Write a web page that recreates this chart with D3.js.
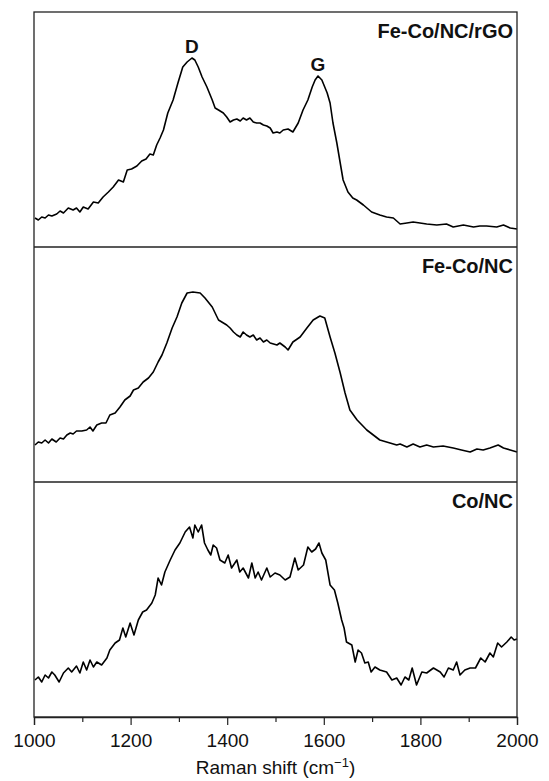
<!DOCTYPE html>
<html><head><meta charset="utf-8">
<script src="https://cdn.jsdelivr.net/npm/d3@7"></script>
<style>body{margin:0;background:#fff}svg{display:block}</style>
</head><body><svg id="c" width="549" height="781"></svg>
<script>
const panelLabels = ["Fe-Co/NC/rGO", "Fe-Co/NC", "Co/NC"];
const xTicksMajor = [1000, 1200, 1400, 1600, 1800, 2000];
const xTicksMinor = [1100, 1300, 1500, 1700, 1900];
const peakLabels = [{t: "D", w: 1327}, {t: "G", w: 1588}];

const shiftFeCoNCrGO = [1002,1009,1016,1023,1030,1037,1047,1054,1061,1071,1081,1088,1095,1102,1112,1123,1133,1143,1154,1164,1175,1185,1193,1202,1213,1223,1232,1240,1247,1254,1261,1268,1277,1288,1298,1308,1317,1327,1333,1340,1348,1358,1369,1375,1382,1392,1399,1406,1413,1420,1427,1433,1440,1447,1454,1461,1468,1475,1482,1489,1495,1503,1509,1516,1526,1536,1547,1557,1567,1576,1582,1588,1596,1607,1613,1619,1627,1634,1640,1650,1660,1668,1682,1699,1716,1730,1744,1758,1772,1785,1799,1813,1834,1854,1868,1889,1910,1923,1937,1958,1972,1986,2000];
const intFeCoNCrGO = [29,27,30,29,32,31,33,36,34,39,37,39,35,40,38,45,44,50,55,60,67,65,77,78,81,86,88,93,92,102,109,117,134,147,164,180,185,189,187,180,170,160,147,139,137,134,130,125,127,128,126,129,127,129,125,124,124,122,121,119,114,115,114,117,118,115,124,137,147,160,167,171,167,154,144,124,104,84,67,55,49,47,42,35,32,30,29,23,24,25,24,23,22,23,20,22,20,21,21,20,22,19,18];

const shiftFeCoNC = [1002,1009,1016,1023,1030,1037,1046,1054,1061,1068,1075,1081,1088,1099,1109,1116,1122,1130,1140,1149,1157,1168,1178,1188,1199,1206,1216,1226,1237,1247,1257,1265,1275,1286,1296,1306,1317,1329,1344,1354,1369,1382,1399,1406,1413,1420,1427,1433,1440,1447,1454,1461,1468,1475,1482,1489,1503,1509,1520,1526,1536,1551,1565,1578,1592,1602,1613,1623,1634,1644,1654,1669,1689,1716,1737,1751,1758,1772,1785,1799,1813,1827,1847,1868,1885,1903,1917,1930,1944,1961,1972,1986,2000];
const intFeCoNC = [37,40,39,42,39,43,40,44,43,47,49,48,51,51,52,55,51,57,59,59,67,69,75,82,86,92,94,100,104,110,120,127,139,154,165,179,189,190,189,184,175,162,157,154,150,147,145,150,147,145,147,142,144,140,142,139,137,139,135,132,140,145,154,162,166,164,145,129,109,89,72,62,52,42,39,37,38,35,38,35,37,35,36,34,32,30,33,32,34,37,34,32,30];

const shiftCoNC = [1002,1009,1016,1023,1030,1037,1043,1052,1061,1071,1078,1088,1095,1102,1109,1116,1123,1130,1140,1151,1157,1168,1177,1184,1190,1199,1207,1216,1225,1233,1244,1251,1257,1264,1271,1282,1292,1302,1313,1322,1329,1333,1340,1347,1353,1360,1366,1371,1378,1385,1395,1402,1409,1420,1426,1433,1444,1451,1458,1464,1471,1482,1489,1499,1509,1520,1530,1540,1547,1558,1567,1575,1583,1590,1596,1604,1613,1622,1629,1637,1642,1647,1658,1665,1671,1678,1685,1692,1698,1706,1716,1730,1741,1751,1760,1768,1776,1783,1792,1803,1813,1827,1841,1849,1858,1868,1875,1882,1892,1903,1914,1925,1934,1944,1951,1960,1968,1979,1988,1994,2000];
const intCoNC = [37,40,35,42,39,45,42,35,44,49,45,51,44,55,47,57,50,55,52,59,67,74,77,89,80,94,82,97,105,107,114,122,139,132,145,157,167,174,185,190,179,192,185,192,174,167,162,172,169,157,154,162,149,157,145,149,139,154,139,145,137,149,140,144,142,137,140,159,147,152,170,165,168,174,164,157,132,127,114,97,89,75,72,55,67,64,54,55,45,50,47,45,37,39,32,40,37,49,32,45,44,49,45,40,49,47,55,42,47,49,49,59,55,64,60,74,70,75,80,77,78];

const series = [
  {label: panelLabels[0], x: shiftFeCoNCrGO, y: intFeCoNCrGO},
  {label: panelLabels[1], x: shiftFeCoNC, y: intFeCoNC},
  {label: panelLabels[2], x: shiftCoNC, y: intCoNC}
];

const svg = d3.select("#c");
const L = 34, R = 517, T = 12, PH = 235;
const B = T + PH * 3;
const x = d3.scaleLinear().domain([1000, 2000]).range([L, R]);
const font = "Liberation Sans, Arial, sans-serif";

series.forEach((s, i) => {
  const top = T + i * PH;
  const y = d3.scaleLinear().domain([0, 235]).range([top + PH, top]);
  const pts = s.x.map((v, k) => [v, s.y[k]]);
  svg.append("path")
    .attr("d", d3.line().x(d => x(d[0])).y(d => y(d[1]))(pts))
    .attr("fill", "none").attr("stroke", "#000").attr("stroke-width", 1.6)
    .attr("stroke-linejoin", "round");
  svg.append("text").attr("x", R - 4).attr("y", top + 26)
    .attr("text-anchor", "end").attr("font-family", font)
    .attr("font-weight", "bold").attr("font-size", 20).attr("fill", "#111").text(s.label);
  if (i === 0) {
    peakLabels.forEach(p => {
      const idx = d3.leastIndex(s.x, v => Math.abs(v - p.w));
      svg.append("text").attr("x", x(p.w)).attr("y", y(s.y[idx]) - 5)
        .attr("text-anchor", "middle").attr("font-family", font)
        .attr("font-weight", "bold").attr("font-size", 19).attr("fill", "#111").text(p.t);
    });
  }
  if (i > 0) {
    svg.append("line").attr("x1", L).attr("x2", R).attr("y1", top).attr("y2", top)
      .attr("stroke", "#222").attr("stroke-width", 1.3);
  }
});

svg.append("rect").attr("x", L).attr("y", T).attr("width", R - L).attr("height", B - T)
  .attr("fill", "none").attr("stroke", "#222").attr("stroke-width", 1.3);

const axis = svg.append("g").attr("transform", `translate(0,${B})`);
axis.call(d3.axisBottom(x).tickValues(xTicksMajor).tickSize(8).tickPadding(9).tickFormat(d3.format("d")));
axis.select(".domain").attr("stroke", "#222").attr("stroke-width", 1.3);
axis.selectAll(".tick line").attr("stroke", "#222").attr("stroke-width", 1.2);
axis.selectAll("text").attr("font-family", font).attr("font-size", 19).attr("fill", "#111");
const minor = svg.append("g").attr("transform", `translate(0,${B})`);
minor.call(d3.axisBottom(x).tickValues(xTicksMinor).tickSize(5).tickFormat(""));
minor.select(".domain").remove();
minor.selectAll(".tick line").attr("stroke", "#222").attr("stroke-width", 1.2);

const title = svg.append("text").attr("x", (L + R) / 2).attr("y", B + 57)
  .attr("text-anchor", "middle").attr("font-family", font).attr("font-size", 19).attr("fill", "#111");
title.append("tspan").text("Raman shift (cm");
title.append("tspan").attr("dy", -7).attr("font-size", 13).text("\u22121");
title.append("tspan").attr("dy", 7).text(")");
</script></body></html>
